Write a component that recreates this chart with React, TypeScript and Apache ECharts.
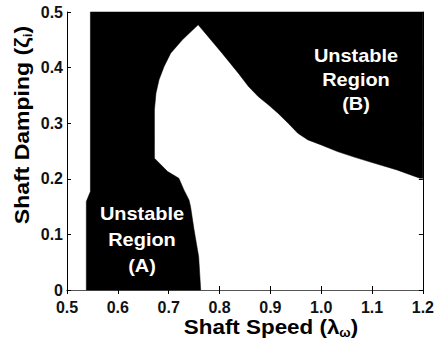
import React, { useEffect, useRef } from "react";
import * as echarts from "echarts";

// Unstable region outline (Shaft Speed, Shaft Damping), traced clockwise
const leftEdgeX = [0.538, 0.538, 0.546, 0.546];
const leftEdgeY = [0.0, 0.159, 0.177, 0.5];
const topRightX = [1.2, 1.2];
const topRightY = [0.5, 0.201];
// boundary of region B, from right edge up to the peak
const boundaryBX = [1.194, 1.149, 1.097, 1.065, 1.032, 1.0, 0.974, 0.954, 0.935, 0.915, 0.896, 0.876, 0.857, 0.837, 0.805, 0.758];
const boundaryBY = [0.201, 0.216, 0.23, 0.239, 0.249, 0.261, 0.27, 0.282, 0.3, 0.318, 0.333, 0.348, 0.366, 0.39, 0.426, 0.477];
// boundary of region A, from the peak down to the x axis
const boundaryAX = [0.727, 0.704, 0.691, 0.681, 0.675, 0.672, 0.672, 0.698, 0.72, 0.73, 0.74, 0.743, 0.75, 0.759, 0.763];
const boundaryAY = [0.45, 0.426, 0.402, 0.378, 0.354, 0.324, 0.237, 0.213, 0.201, 0.18, 0.162, 0.15, 0.108, 0.06, 0.0];

const xTicks = ["0.5", "0.6", "0.7", "0.8", "0.9", "1.0", "1.1", "1.2"];
const yTicks = ["0", "0.1", "0.2", "0.3", "0.4", "0.5"];

const FONT = "'Liberation Sans', Arial, sans-serif";

export default function App() {
  const ref = useRef<HTMLDivElement>(null);
  useEffect(() => {
    if (!ref.current) return;
    const chart = echarts.init(ref.current, null, { renderer: "svg" });
    const xs = [...leftEdgeX, ...topRightX, ...boundaryBX, ...boundaryAX];
    const ys = [...leftEdgeY, ...topRightY, ...boundaryBY, ...boundaryAY];
    const pts = xs.map((x, i) => [x, ys[i]]);

    const axisCommon = {
      axisLine: { show: true, lineStyle: { color: "#000", width: 1 } },
      axisTick: { show: true, inside: true, length: 4, lineStyle: { color: "#000" } },
      splitLine: { show: false },
    };
    const tickLabel = {
      color: "#111",
      fontWeight: "bold",
      fontSize: 16,
      fontFamily: FONT,
    };
    const titleRich = {
      a: { fontSize: 20, fontWeight: "bold", fontFamily: FONT, color: "#111", lineHeight: 26 },
      s: { fontSize: 12, fontWeight: "bold", fontFamily: FONT, color: "#111", lineHeight: 26, padding: [12, 0, 0, 0] },
    };
    const regionStyle = {
      fill: "#fff",
      fontSize: 19,
      fontWeight: "bold",
      fontFamily: FONT,
      align: "center",
      verticalAlign: "middle",
    };

    chart.setOption({
      animation: false,
      backgroundColor: "#fff",
      grid: { left: 67, right: 11, top: 12, bottom: 55, containLabel: false },
      xAxis: [
        {
          type: "value",
          min: 0.5,
          max: 1.2,
          interval: 0.1,
          ...axisCommon,
          axisLabel: {
            ...tickLabel,
            margin: 9,
            formatter: (v: number) => xTicks[Math.round((v - 0.5) * 10)] ?? "",
          },
        },
        {
          type: "value",
          position: "top",
          min: 0.5,
          max: 1.2,
          interval: 0.1,
          ...axisCommon,
          axisLine: { show: true, lineStyle: { color: "#555", width: 1 } },
          axisLabel: { show: false },
        },
      ],
      yAxis: [
        {
          type: "value",
          min: 0,
          max: 0.5,
          interval: 0.1,
          ...axisCommon,
          axisLabel: {
            ...tickLabel,
            margin: 4,
            formatter: (v: number) => yTicks[Math.round(v * 10)] ?? "",
          },
        },
        {
          type: "value",
          position: "right",
          min: 0,
          max: 0.5,
          interval: 0.1,
          ...axisCommon,
          axisLabel: { show: false },
        },
      ],
      series: [
        {
          type: "custom",
          data: [0],
          z: 1,
          renderItem: (params: any, api: any) => {
            const points = pts.map((p) => api.coord(p));
            return {
              type: "polygon",
              shape: { points },
              style: { fill: "#000", stroke: "#000", lineWidth: 0.5 },
            };
          },
        },
      ],
      graphic: [
        {
          type: "text",
          x: 142,
          y: 239,
          z: 10,
          scaleX: 1.05,
          style: { ...regionStyle, text: "Unstable\nRegion\n(A)", lineHeight: 26 },
        },
        {
          type: "text",
          x: 356,
          y: 79,
          z: 10,
          scaleX: 1.05,
          style: { ...regionStyle, text: "Unstable\nRegion\n(B)", lineHeight: 24 },
        },
        {
          type: "text",
          x: 271,
          y: 327,
          z: 10,
          scaleX: 1.12,
          style: {
            text: "{a|Shaft Speed (λ}{s|ω}{a|)}",
            align: "center",
            verticalAlign: "middle",
            rich: titleRich,
          },
        },
        {
          type: "text",
          x: 22,
          y: 125,
          z: 10,
          rotation: Math.PI / 2,
          scaleX: 1.15,
          style: {
            text: "{a|Shaft Damping (ζ}{s|i}{a|)}",
            align: "center",
            verticalAlign: "middle",
            rich: titleRich,
          },
        },
      ],
    });
    return () => chart.dispose();
  }, []);
  return (
    <div
      ref={ref}
      style={{ position: "fixed", left: 0, top: 0, width: 437, height: 345, background: "#fff" }}
    />
  );
}
